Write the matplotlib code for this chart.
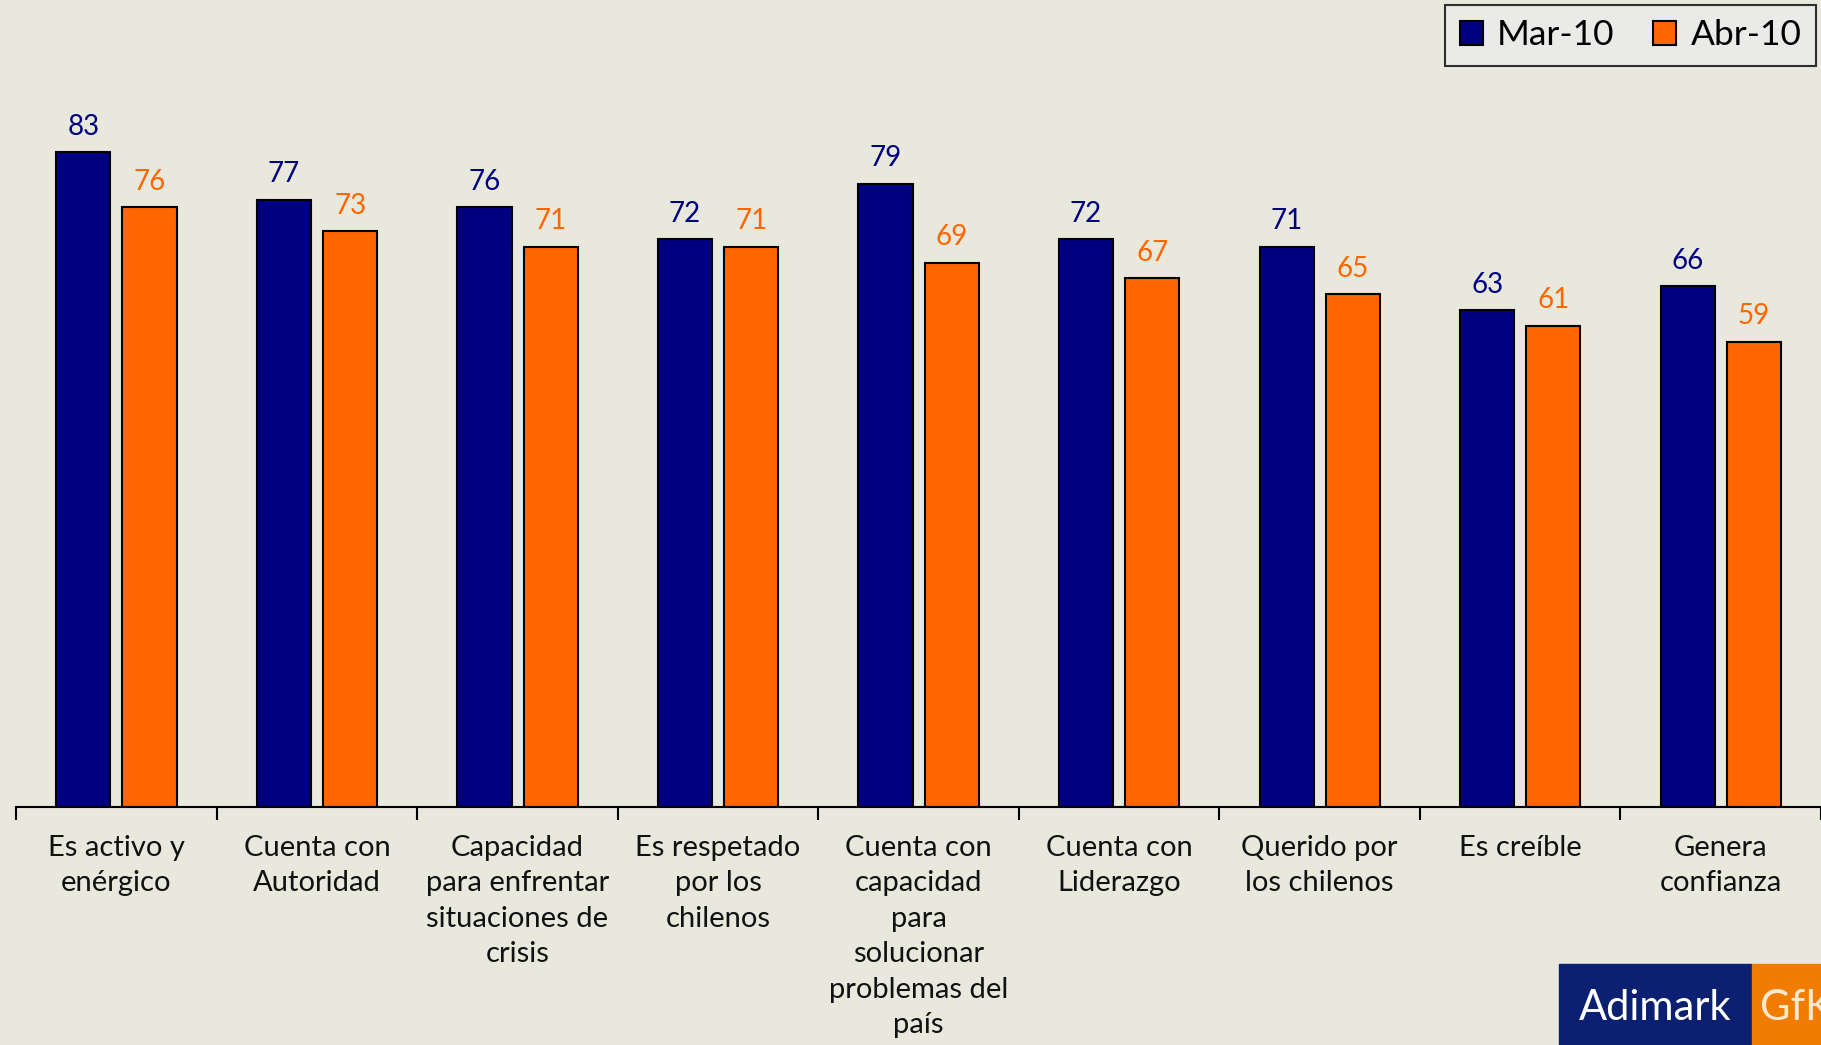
import matplotlib.pyplot as plt
import numpy as np
from matplotlib.patches import Rectangle

categorias = ["Es activo y\nenérgico", "Cuenta con\nAutoridad",
              "Capacidad\npara enfrentar\nsituaciones de\ncrisis",
              "Es respetado\npor los\nchilenos",
              "Cuenta con\ncapacidad\npara\nsolucionar\nproblemas del\npaís",
              "Cuenta con\nLiderazgo", "Querido por\nlos chilenos",
              "Es creíble", "Genera\nconfianza"]
mar10 = [83, 77, 76, 72, 79, 72, 71, 63, 66]
abr10 = [76, 73, 71, 71, 69, 67, 65, 61, 59]
series = ["Mar-10", "Abr-10"]

azul = '#000080'
naranja = '#FF6600'
fondo = '#E9E8DD'

plt.rcParams['font.family'] = ['Lato', 'DejaVu Sans']

fig = plt.figure(figsize=(18.21, 10.45), dpi=100, facecolor=fondo)
ax = fig.add_axes([0.0089, 0.2278, 0.9911, 0.7722])
ax.set_facecolor(fondo)

x = np.arange(len(categorias))
w = 0.27
b1 = ax.bar(x - 0.165, mar10, w, color=azul, edgecolor='black', linewidth=1.5, label=series[0])
b2 = ax.bar(x + 0.165, abr10, w, color=naranja, edgecolor='black', linewidth=1.5, label=series[1])

for bars, vals, c in [(b1, mar10, azul), (b2, abr10, naranja)]:
    for r, v in zip(bars, vals):
        ax.annotate('%d' % v, (r.get_x() + r.get_width() / 2, v), xytext=(0, 9),
                    textcoords='offset points', ha='center', va='bottom',
                    fontsize=20, color=c)

ax.set_xlim(-0.5, 8.5)
ax.set_ylim(0, 102.3)
ax.set_yticks([])
for s in ['top', 'right', 'left']:
    ax.spines[s].set_visible(False)
ax.spines['bottom'].set_linewidth(1.5)

ax.set_xticks(x)
ax.set_xticklabels(categorias, fontsize=21, linespacing=1.45, color='#111111')
ax.tick_params(axis='x', which='major', length=0, pad=20)
ax.set_xticks(np.arange(-0.5, 9.0, 1.0), minor=True)
ax.tick_params(axis='x', which='minor', length=9, width=1.5, direction='out')

leg = ax.legend(loc='upper right', bbox_to_anchor=(0.997, 0.995), bbox_transform=fig.transFigure,
                ncol=2, fontsize=25.5, frameon=True, fancybox=False, handlelength=0.65,
                handleheight=0.65, handletextpad=0.4, columnspacing=1.1,
                borderpad=0.4, borderaxespad=0.0)
leg.get_frame().set_edgecolor('black')
leg.get_frame().set_linewidth(1.5)
leg.get_frame().set_facecolor('#EBECEC')

# logo Adimark GfK
fig.patches.append(Rectangle((1559 / 1821, 0), 193 / 1821, 81 / 1045,
                             transform=fig.transFigure, color='#0B2070', zorder=5))
fig.patches.append(Rectangle((1752 / 1821, 0), 69 / 1821, 81 / 1045,
                             transform=fig.transFigure, color='#F07D00', zorder=5))
fig.text(1655 / 1821, 37 / 1045, 'Adimark', color='white', fontsize=30,
         ha='center', va='center', zorder=6)
fig.text(1760 / 1821, 37 / 1045, 'GfK', color='#FFE9D0', fontsize=30,
         ha='left', va='center', zorder=6)

plt.savefig('out.png', dpi=100, facecolor=fondo)
